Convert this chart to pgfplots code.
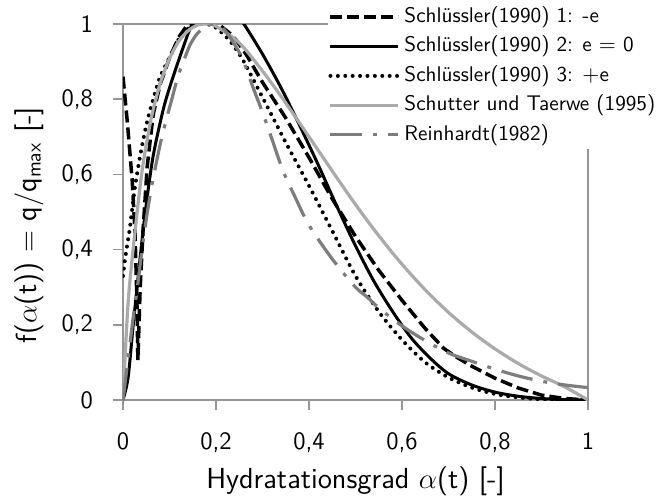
\documentclass[border=0pt]{standalone}
\usepackage{pgfplots}
\pgfplotsset{compat=1.18}
\renewcommand{\familydefault}{\sfdefault}
\definecolor{axgray}{RGB}{150,150,150}
\definecolor{lgray}{RGB}{170,170,170}
\definecolor{dgray}{RGB}{125,125,125}

\begin{document}
\begin{tikzpicture}
\useasboundingbox (-61.5pt,-50pt) rectangle (272pt,200pt);
\begin{axis}[
    at={(0,0)}, anchor=south west,
    width=232.5pt, height=188pt, scale only axis,
    xmin=0, xmax=1, ymin=0, ymax=1,
    axis line style={draw=axgray, line width=0.75pt},
    xtick={0,0.2,0.4,0.6,0.8,1},
    ytick={0,0.2,0.4,0.6,0.8,1},
    xticklabels={0,{0,2},{0,4},{0,6},{0,8},1},
    yticklabels={0,{0,2},{0,4},{0,6},{0,8},1},
    tick align=outside, xtick pos=bottom, ytick pos=left,
    major tick length=5pt,
    tick style={draw=axgray, line width=0.75pt},
    ticklabel style={font=\fontsize{12.5}{14}\selectfont},
    xticklabel style={yshift=-8pt},
    yticklabel style={xshift=-6.5pt},
    xlabel={Hydratationsgrad $\alpha$(t) [-]},
    ylabel={f($\alpha$(t)) $=$ q/q$_{\mathsf{max}}$ [-]},
    label style={font=\fontsize{14.5}{16}\selectfont},
    xlabel style={at={(axis description cs:0.5,-0.2154)}, anchor=center},
    ylabel style={at={(axis description cs:-0.202,0.465)}, anchor=center},
    legend image code/.code={\draw[#1] (0pt,0pt) -- (34pt,0pt);},
    legend cell align=left,
    legend style={at={(axis description cs:0.441,1)}, anchor=north west, yshift=11pt,
      draw=none, fill=white, inner sep=0pt, row sep=0pt, column sep=0.5pt,
      font=\fontsize{10.6}{12}\selectfont,
      nodes={inner sep=1.5pt, text height=8.5pt, text depth=3.2pt}},
  ]
  % Schluessler 1: -e
  \addplot[black, line width=1.75pt, dash pattern=on 6pt off 2.5pt] coordinates {
    (0,0.86) (0.01,0.73) (0.02,0.58) (0.026,0.44) (0.03,0.26) (0.032,0.106)
    (0.037,0.30) (0.043,0.45) (0.052,0.62) (0.065,0.76) (0.08,0.84) (0.1,0.91)
    (0.12,0.965) (0.137,0.995) (0.15,1.005) (0.18,1.01) (0.2,1.005) (0.21,0.995)
    (0.23,0.975) (0.245,0.955) (0.267,0.915) (0.30,0.845) (0.35,0.75) (0.40,0.645)
    (0.45,0.535) (0.50,0.435) (0.55,0.345) (0.60,0.265) (0.65,0.19) (0.69,0.137)
    (0.72,0.112) (0.75,0.09) (0.80,0.058) (0.85,0.032) (0.90,0.013) (0.95,0.004) (1,0)
  };
  \addlegendentry{Schlüssler(1990) 1: -e}
  % Schluessler 2: e = 0
  \addplot[black, line width=1.5pt, smooth] coordinates {
    (0,0) (0.011,0.06) (0.022,0.2) (0.037,0.38) (0.05,0.52) (0.065,0.65)
    (0.086,0.77) (0.1,0.83) (0.116,0.89) (0.13,0.94) (0.145,0.99) (0.16,1.02)
    (0.19,1.05) (0.22,1.05) (0.24,1.03) (0.26,1.0) (0.30,0.92) (0.34,0.83)
    (0.38,0.73) (0.42,0.625) (0.46,0.515) (0.50,0.41) (0.54,0.315) (0.58,0.235)
    (0.62,0.165) (0.66,0.112) (0.70,0.07) (0.75,0.04) (0.80,0.021) (0.85,0.01)
    (0.90,0.004) (0.95,0.001) (1,0)
  };
  \addlegendentry{Schlüssler(1990) 2: e $=$ 0}
  % Schluessler 3: +e
  \addplot[black, line width=2pt, line cap=round, dash pattern=on 0pt off 3.7pt, smooth] coordinates {
    (0,0.33) (0.005,0.38) (0.015,0.46) (0.025,0.56) (0.037,0.65) (0.05,0.73)
    (0.065,0.8) (0.08,0.86) (0.1,0.91) (0.12,0.96) (0.137,0.985) (0.16,1.0)
    (0.18,1.0) (0.2,0.99) (0.23,0.955) (0.258,0.904) (0.30,0.805) (0.35,0.685)
    (0.40,0.57) (0.45,0.45) (0.50,0.33) (0.55,0.235) (0.60,0.16) (0.65,0.1)
    (0.70,0.06) (0.75,0.033) (0.80,0.016) (0.85,0.007) (0.90,0.002) (1,0)
  };
  \addlegendentry{Schlüssler(1990) 3: $+$e}
  % Schutter und Taerwe
  \addplot[lgray, line width=1.6pt, smooth] coordinates {
    (0,0) (0.01,0.24) (0.02,0.38) (0.04,0.6) (0.06,0.745) (0.08,0.842) (0.10,0.908)
    (0.12,0.954) (0.14,0.982) (0.16,0.997) (0.18,1.0) (0.20,0.994) (0.25,0.95)
    (0.30,0.875) (0.35,0.79) (0.40,0.70) (0.45,0.609) (0.50,0.52) (0.55,0.437)
    (0.60,0.361) (0.65,0.293) (0.70,0.233) (0.75,0.181) (0.80,0.136) (0.85,0.097)
    (0.90,0.064) (0.95,0.035) (1,0)
  };
  \addlegendentry{Schutter und Taerwe (1995)}
  % Reinhardt
  \addplot[dgray, line width=1.6pt, dash pattern=on 16pt off 5.5pt on 2pt off 5.5pt, smooth] coordinates {
    (0,0) (0.01,0.1) (0.022,0.22) (0.03,0.29) (0.043,0.42) (0.055,0.52) (0.065,0.59)
    (0.08,0.68) (0.094,0.75) (0.105,0.8) (0.118,0.86) (0.13,0.9) (0.144,0.944)
    (0.16,0.975) (0.18,0.995) (0.195,1.0) (0.21,0.995) (0.23,0.965) (0.256,0.91)
    (0.28,0.83) (0.30,0.765) (0.32,0.695) (0.344,0.61) (0.37,0.54) (0.40,0.465)
    (0.45,0.375) (0.50,0.30) (0.525,0.274) (0.55,0.245) (0.60,0.197) (0.65,0.158)
    (0.70,0.125) (0.75,0.103) (0.80,0.082) (0.85,0.064) (0.90,0.05) (0.95,0.04) (1,0.033)
  };
  \addlegendentry{Reinhardt(1982)}
\end{axis}
\end{tikzpicture}
\end{document}
